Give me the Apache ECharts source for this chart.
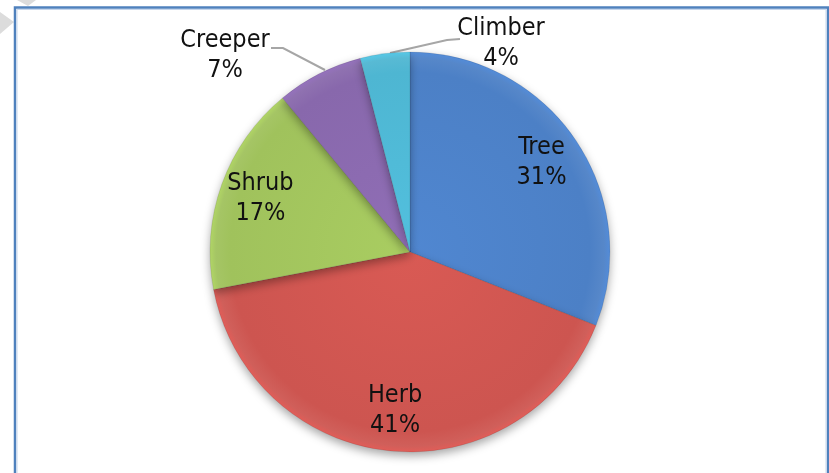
<!DOCTYPE html>
<html>
<head>
<meta charset="utf-8">
<script src="https://cdn.jsdelivr.net/npm/echarts@6/dist/echarts.min.js"></script>
<style>
  html, body { margin: 0; padding: 0; background: #fff; }
  #chart { width: 829px; height: 473px; }
</style>
</head>
<body>
<div id="chart"></div>
<script>
// 饼图数据:植物生活型占比(%)
var categories = ["Tree", "Herb", "Shrub", "Creeper", "Climber"];
var shares = [31, 41, 17, 7, 4];
var colors = ["#4C80C6", "#CD5550", "#A0C25C", "#8868AC", "#4EB6D2"];
var insideLabels = ["Tree", "Herb", "Shrub"];

var FONT = "'Liberation Sans Narrow', 'DejaVu Sans Condensed', 'Liberation Sans', sans-serif";
var CX = 410, CY = 252, R = 200;

// 以饼心为圆心的径向渐变:边缘略暗,模拟斜面效果
function shade(hex) {
  var c = echarts.color;
  return new echarts.graphic.RadialGradient(CX, CY, R, [
    { offset: 0, color: c.lift(hex, -0.06) },
    { offset: 0.9, color: hex },
    { offset: 0.97, color: c.lift(hex, 0.06) },
    { offset: 1, color: c.lift(hex, -0.1) }
  ], true);
}

var mainData = categories.map(function (name, i) {
  var outside = insideLabels.indexOf(name) < 0;
  return {
    name: name, value: shares[i],
    itemStyle: { color: shade(colors[i]) },
    label: { show: outside },
    labelLine: { show: outside }
  };
});

// 透明环形叠层,只负责把内部标签放在约 0.78R 处
var ringData = categories.map(function (name, i) {
  return {
    name: name, value: shares[i],
    label: { show: insideLabels.indexOf(name) >= 0 }
  };
});

// 外部标签位置与引导线(贴近原图)
var outsideLayout = {
  Creeper: { x: 225, y: 55, line: [[325, 70], [283, 48], [271, 48]] },
  Climber: { x: 501, y: 43, line: [[390, 53], [447, 40], [460, 39]] }
};

var chart = echarts.init(document.getElementById("chart"), null, { renderer: "canvas" });
chart.setOption({
  animation: false,
  graphic: [
    // 外框
    { type: "rect", shape: { x: 15, y: 7.5, width: 813, height: 480 },
      style: { fill: "none", stroke: "#4F81BD", lineWidth: 2.5 }, z: 10 },
    { type: "rect", shape: { x: 17, y: 9.5, width: 809, height: 480 },
      style: { fill: "none", stroke: "#C6D6EC", lineWidth: 1 }, z: 10 },
    // 左上角水印残片
    { type: "polygon", shape: { points: [[0, 12], [14, 22], [0, 34]] },
      style: { fill: "#DCDCDC" }, z: 9 },
    { type: "polygon", shape: { points: [[17, 0], [36, 0], [28, 6]] },
      style: { fill: "#DCDCDC" }, z: 9 }
  ],
  series: [
    {
      type: "pie",
      center: [CX, CY], radius: R,
      startAngle: 90, clockwise: true,
      silent: true,
      data: mainData,
      itemStyle: {
        borderColor: "rgba(0,0,0,0.12)", borderWidth: 0.8,
        shadowBlur: 10, shadowOffsetY: 4, shadowColor: "rgba(0,0,0,0.35)"
      },
      label: {
        position: "outside", formatter: "{b}\n{c}%",
        fontFamily: FONT, fontSize: 25, lineHeight: 30, color: "#111", align: "center"
      },
      labelLine: { lineStyle: { color: "#A6A6A6", width: 2 } },
      labelLayout: function (p) {
        var o = outsideLayout[categories[p.dataIndex]];
        if (!o) return {};
        return { x: o.x, y: o.y, align: "center", verticalAlign: "middle", labelLinePoints: o.line };
      }
    },
    {
      type: "pie",
      center: [CX, CY], radius: [112, R],
      startAngle: 90, clockwise: true,
      silent: true,
      data: ringData,
      itemStyle: { color: "rgba(0,0,0,0)" },
      label: {
        position: "inside", formatter: "{b}\n{c}%",
        fontFamily: FONT, fontSize: 25, lineHeight: 30, color: "#111"
      },
      labelLine: { show: false }
    }
  ]
});
</script>
</body>
</html>
